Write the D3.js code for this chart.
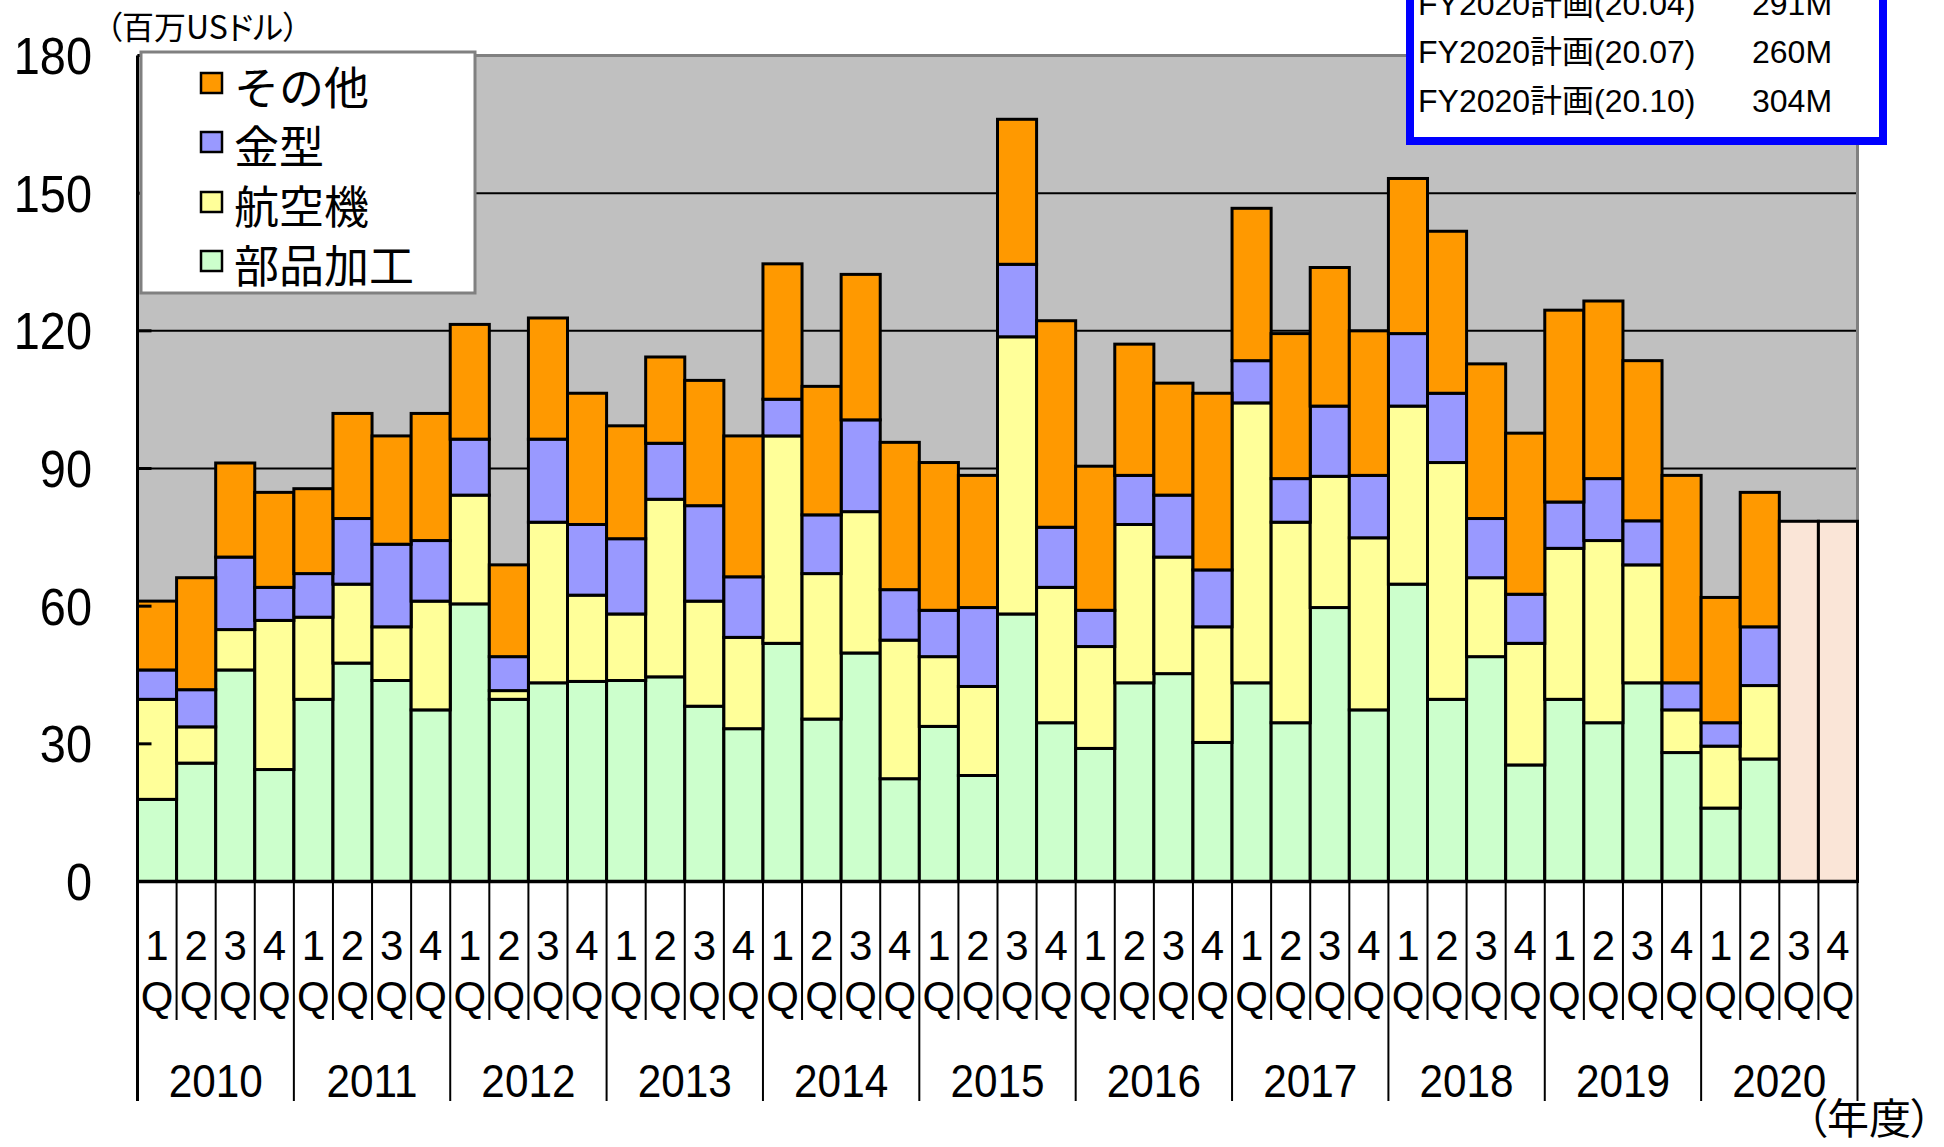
<!DOCTYPE html>
<html>
<head>
<meta charset="utf-8">
<script src="https://cdn.jsdelivr.net/npm/d3@7"></script>
<style>
  body { margin: 0; background: #fff; }
  svg { display: block; }
</style>
</head>
<body>
<svg id="chart"></svg>
<script>
const width = 1944;
const height = 1147;

// DATA
const years = ["2010", "2011", "2012", "2013", "2014", "2015", "2016", "2017", "2018", "2019", "2020"];
const quarterNums = ["1", "2", "3", "4"];

// 部品加工
const buhin = [17.9, 25.8, 46.1, 24.4, 39.7, 47.6, 43.8, 37.4, 60.5, 39.7, 43.3,
               43.6, 43.8, 44.6, 38.2, 33.3, 51.9, 35.4, 49.8, 22.4, 33.8, 23.1,
               58.3, 34.6, 29.0, 43.3, 45.3, 30.3, 43.3, 34.6, 59.7, 37.4, 64.8,
               39.7, 49.0, 25.4, 39.7, 34.6, 43.3, 28.1, 16.0, 26.7, 0, 0];
// 航空機
const koukuuki = [21.8, 7.9, 8.8, 32.5, 17.9, 17.2, 11.7, 23.7, 23.7, 1.9, 35.0,
                  18.8, 14.5, 38.7, 22.9, 19.9, 45.2, 31.7, 30.8, 30.2, 15.2, 19.4,
                  60.4, 29.5, 22.2, 34.5, 25.4, 25.2, 61.0, 43.7, 28.6, 37.5, 38.8,
                  51.6, 17.2, 26.5, 32.9, 39.7, 25.7, 9.3, 13.5, 16.0, 0, 0];
// 金型
const kanagata = [6.4, 8.1, 15.8, 7.2, 9.5, 14.3, 18.0, 13.2, 12.2, 7.4, 18.1,
                  15.4, 16.4, 12.2, 20.8, 13.2, 8.0, 12.8, 20.0, 11.0, 10.1, 17.2,
                  15.8, 13.1, 7.9, 10.7, 13.5, 12.4, 9.2, 9.5, 15.3, 13.6, 15.8,
                  15.1, 12.9, 10.7, 10.1, 13.5, 9.6, 5.9, 5.1, 12.8, 0, 0];
// その他
const sonota = [15.0, 24.4, 20.5, 20.7, 18.5, 22.9, 23.6, 27.7, 25.0, 20.0, 26.4,
                28.6, 24.6, 18.8, 27.3, 30.7, 29.5, 28.0, 31.7, 32.1, 32.2, 28.8,
                31.6, 45.0, 31.4, 28.6, 24.4, 38.5, 33.2, 31.6, 30.2, 31.5, 33.8,
                35.3, 33.7, 35.1, 41.8, 38.7, 34.9, 45.2, 27.3, 29.3, 0, 0];
// 計画 (FY2020 3Q, 4Q)
const keikaku = [0, 0, 0, 0, 0, 0, 0, 0, 0, 0, 0,
                 0, 0, 0, 0, 0, 0, 0, 0, 0, 0, 0,
                 0, 0, 0, 0, 0, 0, 0, 0, 0, 0, 0,
                 0, 0, 0, 0, 0, 0, 0, 0, 0, 78.5, 78.5];

const yTicks = [0, 30, 60, 90, 120, 150, 180];
const legendKeys = ["その他", "金型", "航空機", "部品加工"];
const planLabels = ["FY2020計画(20.04)", "FY2020計画(20.07)", "FY2020計画(20.10)"];
const planValues = ["291M", "260M", "304M"];

const keys = ["部品加工", "航空機", "金型", "その他", "計画"];
const colors = {
  "部品加工": "#ccffcc",
  "航空機": "#ffff99",
  "金型": "#9999ff",
  "その他": "#ff9900",
  "計画": "#fae5d7"
};

const plotLeft = 137.5, plotRight = 1857.5, plotTop = 55.5, plotBottom = 881.5;
const numFont = "'Liberation Sans', Arial, sans-serif";
const jpFont = "'Noto Sans CJK JP', sans-serif";

const categories = years.flatMap(y => quarterNums.map(q => y + "-" + q));
const table = categories.map((c, i) => ({
  cat: c,
  "部品加工": buhin[i],
  "航空機": koukuuki[i],
  "金型": kanagata[i],
  "その他": sonota[i],
  "計画": keikaku[i]
}));

// SCALES
const x = d3.scaleBand().domain(categories).range([plotLeft, plotRight]).padding(0);
const y = d3.scaleLinear().domain([0, 180]).range([plotBottom, plotTop]);

const svg = d3.select("#chart")
  .attr("width", width)
  .attr("height", height)
  .style("background", "#fff");

// plot area
svg.append("rect")
  .attr("x", plotLeft).attr("y", plotTop)
  .attr("width", plotRight - plotLeft).attr("height", plotBottom - plotTop)
  .attr("fill", "#c0c0c0");

// gridlines
svg.append("g")
  .selectAll("line")
  .data(yTicks.filter(t => t > 0 && t < 180))
  .join("line")
    .attr("x1", plotLeft).attr("x2", plotRight)
    .attr("y1", d => y(d)).attr("y2", d => y(d))
    .attr("stroke", "#000")
    .attr("stroke-width", 2);

// top / right border
svg.append("path")
  .attr("d", `M${plotLeft},${plotTop}H${plotRight}V${plotBottom}`)
  .attr("fill", "none")
  .attr("stroke", "#808080")
  .attr("stroke-width", 3);

// STACKED BARS
const series = d3.stack().keys(keys)(table);
svg.append("g")
  .selectAll("g")
  .data(series)
  .join("g")
    .attr("fill", d => colors[d.key])
  .selectAll("rect")
  .data(d => d.filter(p => p[1] - p[0] > 0))
  .join("rect")
    .attr("x", d => x(d.data.cat))
    .attr("width", x.bandwidth())
    .attr("y", d => y(d[1]))
    .attr("height", d => y(d[0]) - y(d[1]))
    .attr("stroke", "#000")
    .attr("stroke-width", 3);

// Y AXIS
svg.append("line")
  .attr("x1", plotLeft).attr("x2", plotLeft)
  .attr("y1", plotTop).attr("y2", 1101)
  .attr("stroke", "#000").attr("stroke-width", 3);

svg.append("g")
  .selectAll("line")
  .data(yTicks)
  .join("line")
    .attr("x1", plotLeft).attr("x2", plotLeft + 14)
    .attr("y1", d => y(d)).attr("y2", d => y(d))
    .attr("stroke", "#000").attr("stroke-width", 3);

svg.append("g")
  .selectAll("g")
  .data(yTicks)
  .join("g")
    .attr("transform", d => `translate(92, ${y(d)}) scale(0.92, 1)`)
  .append("text")
    .attr("dy", "0.36em")
    .style("text-anchor", "end")
    .style("font-family", numFont)
    .style("font-size", "51px")
    .text(d => d);

// X AXIS
svg.append("line")
  .attr("x1", plotLeft).attr("x2", plotRight)
  .attr("y1", plotBottom).attr("y2", plotBottom)
  .attr("stroke", "#000").attr("stroke-width", 3.5);

const boundaries = d3.range(categories.length + 1);
svg.append("g")
  .selectAll("line")
  .data(boundaries)
  .join("line")
    .attr("x1", i => plotLeft + i * x.step())
    .attr("x2", i => plotLeft + i * x.step())
    .attr("y1", plotBottom)
    .attr("y2", i => i % 4 === 0 ? 1101 : 1020)
    .attr("stroke", "#000")
    .attr("stroke-width", 2);

const qLabels = svg.append("g")
  .selectAll("g")
  .data(categories)
  .join("g")
    .attr("transform", d => `translate(${x(d) + x.bandwidth() / 2}, 0)`)
    .style("font-family", numFont)
    .style("font-size", "42px")
    .style("text-anchor", "middle");
qLabels.append("text").attr("y", 960).text((d, i) => quarterNums[i % 4]);
qLabels.append("text").attr("y", 1011).text("Q");

svg.append("g")
  .selectAll("g")
  .data(years)
  .join("g")
    .attr("transform", d => `translate(${x(d + "-1") + 2 * x.step()}, 1097) scale(0.9, 1)`)
  .append("text")
    .style("text-anchor", "middle")
    .style("font-family", numFont)
    .style("font-size", "47px")
    .text(d => d);

// UNIT LABELS (proportional brackets like the original Gothic font)
svg.append("text")
  .attr("x", 106).attr("y", 39)
  .style("font-family", jpFont)
  .style("font-feature-settings", "'palt'")
  .style("font-size", "32px")
  .text("（百万USドル）");

svg.append("text")
  .attr("x", 1806).attr("y", 1134)
  .style("font-family", jpFont)
  .style("font-feature-settings", "'palt'")
  .style("font-size", "42px")
  .text("（年度）");

// LEGEND
const legend = svg.append("g");
legend.append("rect")
  .attr("x", 141).attr("y", 52)
  .attr("width", 334).attr("height", 241)
  .attr("fill", "#fff")
  .attr("stroke", "#808080")
  .attr("stroke-width", 3);

const legendRows = [83, 142, 202, 261];
const lg = legend.selectAll("g")
  .data(legendKeys)
  .join("g")
    .attr("transform", (d, i) => `translate(0, ${legendRows[i]})`);
lg.append("rect")
  .attr("x", 201).attr("y", -10)
  .attr("width", 21).attr("height", 20)
  .attr("fill", d => colors[d])
  .attr("stroke", "#000")
  .attr("stroke-width", 2.5);
lg.append("text")
  .attr("x", 234).attr("y", 2)
  .attr("dominant-baseline", "central")
  .style("font-family", jpFont)
  .style("font-size", "45px")
  .text(d => d);

// PLAN BOX
const box = svg.append("g");
box.append("rect")
  .attr("x", 1410).attr("y", -100)
  .attr("width", 473).attr("height", 241)
  .attr("fill", "#fff")
  .attr("stroke", "#0000ff")
  .attr("stroke-width", 8);

const planRows = [14.5, 63, 111.5];
box.selectAll("text.lab")
  .data(planLabels)
  .join("text")
    .attr("class", "lab")
    .attr("x", 1418)
    .attr("y", (d, i) => planRows[i])
    .style("font-family", numFont + ", 'Noto Sans CJK JP'")
    .style("font-size", "32px")
    .text(d => d);
box.selectAll("text.val")
  .data(planValues)
  .join("text")
    .attr("class", "val")
    .attr("x", 1752)
    .attr("y", (d, i) => planRows[i])
    .style("font-family", numFont)
    .style("font-size", "32px")
    .text(d => d);
</script>
</body>
</html>
